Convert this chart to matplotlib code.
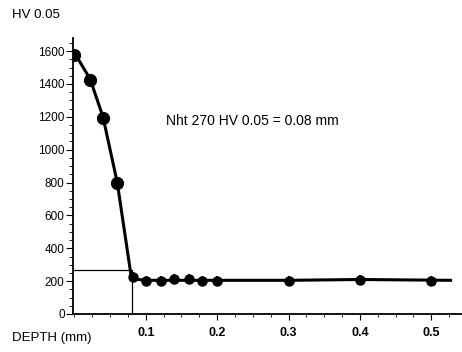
import matplotlib
matplotlib.use("Agg")
from matplotlib import pyplot as plt
from matplotlib.ticker import MultipleLocator

plt.rcParams['font.family'] = ['Liberation Sans', 'DejaVu Sans']

# hardness profile
depth = [0.0, 0.022, 0.04, 0.06, 0.082, 0.1, 0.121, 0.14, 0.16, 0.179, 0.2, 0.3, 0.4, 0.5]
hv = [1575, 1425, 1195, 800, 225, 200, 200, 215, 215, 200, 200, 200, 210, 200]

# fitted line
line_x = [0.0, 0.022, 0.04, 0.06, 0.08, 0.1, 0.2, 0.3, 0.4, 0.527]
line_y = [1590, 1430, 1200, 800, 215, 205, 205, 205, 210, 205]

nht_depth = 0.08
nht_hv = 270

fig = plt.figure(figsize=(4.62, 3.52), dpi=100)
ax = fig.add_axes([73 / 462, 38 / 352, (462 - 73) / 462, (314 - 38) / 352])

ax.plot(line_x, line_y, color='black', lw=2.2, zorder=3)
ax.errorbar(depth[:4], hv[:4], yerr=15, fmt='o', color='black', ms=8.5, capsize=0, elinewidth=1.2, zorder=4)
ax.errorbar(depth[4:], hv[4:], yerr=30, fmt='o', color='black', ms=6.5, capsize=0, elinewidth=1.4, zorder=4)
ax.plot([0, nht_depth, nht_depth], [nht_hv, nht_hv, 0], color='black', lw=0.9, zorder=2)

ax.set_xlim(-0.002, 0.543)
ax.set_ylim(0, 1680)
ax.spines['top'].set_visible(False)
ax.spines['right'].set_visible(False)
ax.spines['left'].set_linewidth(1.3)
ax.spines['bottom'].set_linewidth(1.3)

ax.set_yticks([0, 200, 400, 600, 800, 1000, 1200, 1400, 1600])
ax.yaxis.set_minor_locator(MultipleLocator(50))
ax.set_xticks([0.1, 0.2, 0.3, 0.4, 0.5])
ax.set_xticklabels(['0.1', '0.2', '0.3', '0.4', '0.5'], fontweight='bold')
ax.xaxis.set_minor_locator(MultipleLocator(0.025))
ax.tick_params(axis='y', which='major', length=5, labelsize=8.5, pad=1)
ax.tick_params(axis='y', which='minor', length=3)
ax.tick_params(axis='x', which='major', length=4, labelsize=9, pad=5)
ax.tick_params(axis='x', which='minor', length=2)

fig.text(12 / 462, 1 - 15 / 352, 'HV 0.05', fontsize=9.5, va='center', ha='left')
fig.text(12 / 462, 1 - 338 / 352, 'DEPTH (mm)', fontsize=9.5, va='center', ha='left')
fig.text(252 / 462, 1 - 121 / 352, 'Nht 270 HV 0.05 = 0.08 mm', fontsize=10, va='center', ha='center')

plt.savefig('out.png', dpi=100)
